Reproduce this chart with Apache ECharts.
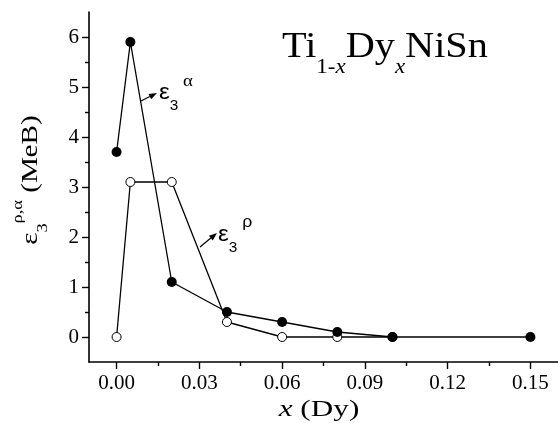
<!DOCTYPE html>
<html><head><meta charset="utf-8">
<script src="https://cdn.jsdelivr.net/npm/echarts@6/dist/echarts.min.js"></script>
<style>html,body{margin:0;padding:0;background:#fff}#c{width:558px;height:423px}</style>
</head><body><div id="c"></div>
<script>
// data
const alphaX = [0, 0.005, 0.02, 0.04, 0.06, 0.08, 0.1, 0.15];
const alphaValues = [3.7, 5.9, 1.1, 0.5, 0.3, 0.1, 0, 0];
const rhoX = [0, 0.005, 0.02, 0.04, 0.06, 0.08, 0.1];
const rhoValues = [0, 3.1, 3.1, 0.3, 0, 0, 0];
const xMajorTicks = [0, 0.03, 0.06, 0.09, 0.12, 0.15];
const xMinorTicks = [0.015, 0.045, 0.075, 0.105, 0.135];
const yMajorTicks = [0, 1, 2, 3, 4, 5, 6];
const yMinorTicks = [0.5, 1.5, 2.5, 3.5, 4.5, 5.5];

const SERIF = 'Liberation Serif';
const SANS = 'Liberation Sans';
const chart = echarts.init(document.getElementById('c'), null, {renderer: 'canvas'});

function arrow(x1, y1, x2, y2) {
  const a = Math.atan2(y2 - y1, x2 - x1), L = 8, W = 3;
  const bx = x2 - L * Math.cos(a), by = y2 - L * Math.sin(a);
  return [
    {type: 'line', shape: {x1: x1, y1: y1, x2: bx, y2: by}, style: {stroke: '#000', lineWidth: 1.2}, z: 10},
    {type: 'polygon', shape: {points: [[x2, y2],
      [bx + W * Math.sin(a), by - W * Math.cos(a)],
      [bx - W * Math.sin(a), by + W * Math.cos(a)]]}, style: {fill: '#000'}, z: 10}
  ];
}

const xAxisBase = {type: 'value', min: -0.01, max: 0.16, position: 'bottom', splitLine: {show: false}};
const yAxisBase = {type: 'value', min: -0.5, max: 6.5, position: 'left', splitLine: {show: false}};

const option = {
  backgroundColor: '#fff',
  animation: false,
  grid: {left: 89, right: 0, top: 12, bottom: 61, containLabel: false, outerBoundsMode: 'none'},
  xAxis: [
    Object.assign({}, xAxisBase, {
      axisLine: {show: true, onZero: false, lineStyle: {color: '#000', width: 1.6}},
      axisTick: {show: true, customValues: xMajorTicks, length: 7, lineStyle: {color: '#000', width: 1.4}},
      axisLabel: {show: true, customValues: xMajorTicks, formatter: v => v.toFixed(2), color: '#000',
        fontFamily: SERIF, fontSize: 21, margin: 11}
    }),
    Object.assign({}, xAxisBase, {
      axisLine: {show: false, onZero: false},
      axisTick: {show: true, customValues: xMinorTicks, length: 4, lineStyle: {color: '#000', width: 1.4}},
      axisLabel: {show: false}
    })
  ],
  yAxis: [
    Object.assign({}, yAxisBase, {
      axisLine: {show: true, onZero: false, lineStyle: {color: '#000', width: 1.6}},
      axisTick: {show: true, customValues: yMajorTicks, length: 7, lineStyle: {color: '#000', width: 1.4}},
      axisLabel: {show: true, customValues: yMajorTicks, formatter: v => String(v), color: '#000',
        fontFamily: SERIF, fontSize: 21, margin: 10}
    }),
    Object.assign({}, yAxisBase, {
      axisLine: {show: false, onZero: false},
      axisTick: {show: true, customValues: yMinorTicks, length: 4, lineStyle: {color: '#000', width: 1.4}},
      axisLabel: {show: false}
    })
  ],
  series: [
    {
      type: 'line', name: 'rho', z: 2,
      data: rhoX.map((x, i) => [x, rhoValues[i]]),
      symbol: 'circle', symbolSize: 9,
      itemStyle: {color: '#fff', borderColor: '#000', borderWidth: 1},
      lineStyle: {color: '#000', width: 1.3}
    },
    {
      type: 'line', name: 'alpha', z: 3,
      data: alphaX.map((x, i) => [x, alphaValues[i]]),
      symbol: 'circle', symbolSize: 10,
      itemStyle: {color: '#000', borderColor: '#000', borderWidth: 0},
      lineStyle: {color: '#000', width: 1.3}
    }
  ],
  graphic: [
    // title
    {type: 'text', x: 282, y: 48, scaleX: 1.15, z: 10, style: {
      text: '{m|Ti}{s|1-}{si|x}{m|Dy}{si|x}{m|NiSn}', textAlign: 'left', textVerticalAlign: 'middle',
      rich: {
        m: {fontFamily: SERIF, fontSize: 35, lineHeight: 60, verticalAlign: 'middle', fill: '#000'},
        s: {fontFamily: SERIF, fontSize: 20, lineHeight: 18, verticalAlign: 'bottom', fill: '#000'},
        si: {fontFamily: SERIF, fontSize: 20, fontStyle: 'italic', lineHeight: 18, verticalAlign: 'bottom', fill: '#000'}
      }}},
    // x axis title
    {type: 'text', x: 319, y: 410, scaleX: 1.3, z: 10, style: {
      text: '{i|x}{m| (Dy)}', textAlign: 'center', textVerticalAlign: 'middle',
      rich: {
        i: {fontFamily: SERIF, fontSize: 24, fontStyle: 'italic', fill: '#000'},
        m: {fontFamily: SERIF, fontSize: 24, fill: '#000'}
      }}},
    // y axis title
    {type: 'text', x: 31, y: 180, rotation: Math.PI / 2, scaleX: 1.22, z: 10, style: {
      text: '{e|ε}{s|3}{p|ρ,α}{m| (МеВ)}', textAlign: 'center', textVerticalAlign: 'middle',
      rich: {
        e: {fontFamily: SERIF, fontSize: 24, lineHeight: 40, verticalAlign: 'middle', fill: '#000'},
        s: {fontFamily: SERIF, fontSize: 15, lineHeight: 18, verticalAlign: 'bottom', fill: '#000'},
        p: {fontFamily: SERIF, fontSize: 15, lineHeight: 16, verticalAlign: 'top', fill: '#000'},
        m: {fontFamily: SERIF, fontSize: 24, lineHeight: 40, verticalAlign: 'middle', fill: '#000'}
      }}},
    // annotation alpha
    {type: 'text', x: 159, y: 93, scaleX: 1.1, z: 10, style: {
      text: '{e|ε}{s|3}{p| α}', textAlign: 'left', textVerticalAlign: 'middle',
      rich: {
        e: {fontFamily: SANS, fontSize: 22, lineHeight: 40, verticalAlign: 'middle', fill: '#000'},
        s: {fontFamily: SANS, fontSize: 14, lineHeight: 20, verticalAlign: 'bottom', fill: '#000'},
        p: {fontFamily: SERIF, fontSize: 17, lineHeight: 8, verticalAlign: 'top', fill: '#000'}
      }}},
    // annotation rho
    {type: 'text', x: 218, y: 235, scaleX: 1.1, z: 10, style: {
      text: '{e|ε}{s|3}{p| ρ}', textAlign: 'left', textVerticalAlign: 'middle',
      rich: {
        e: {fontFamily: SANS, fontSize: 22, lineHeight: 40, verticalAlign: 'middle', fill: '#000'},
        s: {fontFamily: SANS, fontSize: 14, lineHeight: 20, verticalAlign: 'bottom', fill: '#000'},
        p: {fontFamily: SANS, fontSize: 16, lineHeight: 8, verticalAlign: 'top', fill: '#000'}
      }}}
  ].concat(arrow(141, 101, 157, 93), arrow(200, 247, 217, 233))
};
chart.setOption(option);
</script></body></html>
